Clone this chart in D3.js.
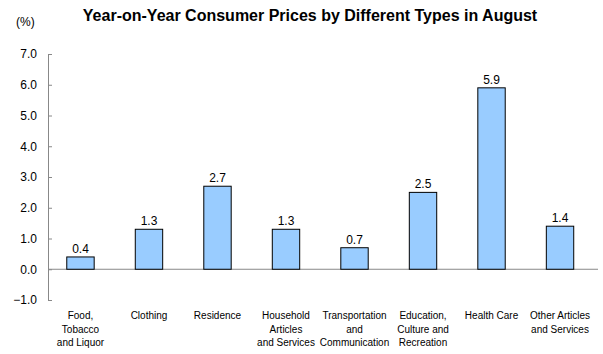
<!DOCTYPE html>
<html>
<head>
<meta charset="utf-8">
<script src="https://cdn.jsdelivr.net/npm/d3@7"></script>
<style>
  body { margin: 0; background: #fff; }
  text { font-family: "Liberation Sans", Arial, sans-serif; }
</style>
</head>
<body>
<svg id="chart" width="603" height="354"></svg>
<script>
const categories = [
  ["Food,", "Tobacco", "and Liquor"],
  ["Clothing"],
  ["Residence"],
  ["Household", "Articles", "and Services"],
  ["Transportation", "and", "Communication"],
  ["Education,", "Culture and", "Recreation"],
  ["Health Care"],
  ["Other Articles", "and Services"]
];
const values = [0.4, 1.3, 2.7, 1.3, 0.7, 2.5, 5.9, 1.4];
const yTicks = [-1, 0, 1, 2, 3, 4, 5, 6, 7];

const svg = d3.select("svg#chart");

const plotLeft = 48, plotRight = 598, plotTop = 54, plotBottom = 300;

const x = d3.scaleBand()
  .domain(d3.range(values.length))
  .range([plotLeft, 592.5])
  .paddingInner(0.6)
  .paddingOuter(0.274);

const y = d3.scaleLinear().domain([-1, 7]).range([plotBottom, plotTop]);

// y axis
const yAxis = d3.axisLeft(y)
  .tickValues(yTicks)
  .tickSize(-4)
  .tickPadding(11)
  .tickFormat(d3.format(".1f"));

const gy = svg.append("g")
  .attr("transform", "translate(" + plotLeft + ",0)")
  .call(yAxis);
gy.select(".domain").attr("stroke", "#888");
gy.selectAll(".tick line").attr("stroke", "#888");
gy.selectAll(".tick text")
  .attr("font-size", 12)
  .attr("fill", "#000")
  .style("font-family", "'Liberation Sans', Arial, sans-serif");

// zero line
svg.append("line")
  .attr("x1", plotLeft).attr("x2", plotRight)
  .attr("y1", y(0)).attr("y2", y(0))
  .attr("stroke", "#888");

// bars
svg.selectAll("rect.bar")
  .data(values)
  .join("rect")
  .attr("class", "bar")
  .attr("x", (d, i) => x(i))
  .attr("y", d => y(d))
  .attr("width", x.bandwidth())
  .attr("height", d => y(0) - y(d))
  .attr("fill", "#99ccff")
  .attr("stroke", "#000")
  .attr("stroke-width", 1);

// value labels
svg.selectAll("text.val")
  .data(values)
  .join("text")
  .attr("class", "val")
  .attr("x", (d, i) => x(i) + x.bandwidth() / 2)
  .attr("y", d => y(d) - 4)
  .attr("text-anchor", "middle")
  .attr("font-size", 12)
  .text(d => d.toFixed(1));

// category labels
const cat = svg.selectAll("text.cat")
  .data(categories)
  .join("text")
  .attr("class", "cat")
  .attr("text-anchor", "middle")
  .attr("font-size", 10)
  .attr("transform", (d, i) => "translate(" + (x(i) + x.bandwidth() / 2) + ",319)");
cat.selectAll("tspan")
  .data(d => d)
  .join("tspan")
  .attr("x", 0)
  .attr("y", (d, j) => j * 13.5)
  .text(d => d);

// title
svg.append("text")
  .attr("x", 310)
  .attr("y", 21)
  .attr("text-anchor", "middle")
  .attr("font-size", 16)
  .attr("font-weight", "bold")
  .text("Year-on-Year Consumer Prices by Different Types in August");

svg.append("text")
  .attr("x", 16)
  .attr("y", 26)
  .attr("font-size", 12)
  .text("(%)");
</script>
</body>
</html>
